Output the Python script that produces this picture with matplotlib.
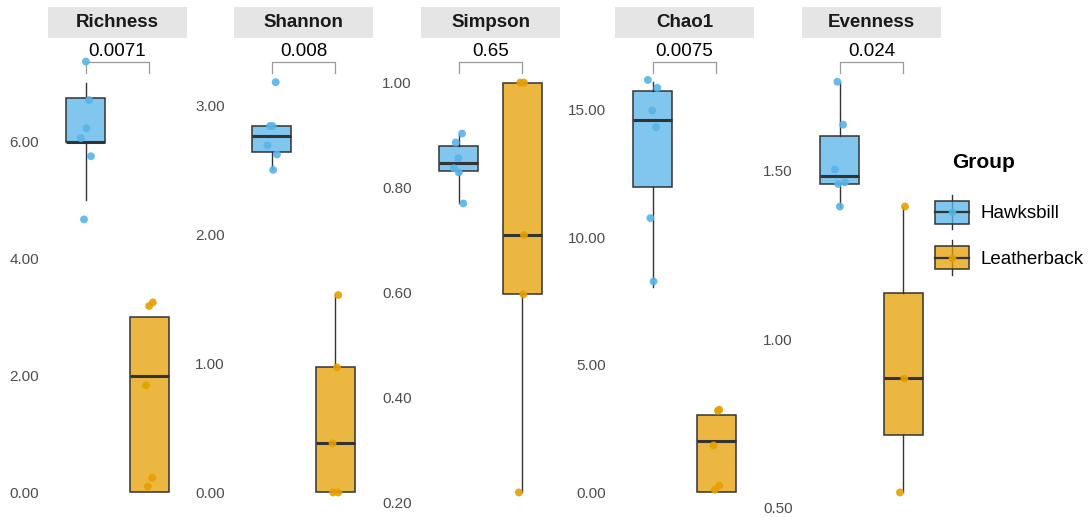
import matplotlib
matplotlib.use("Agg")
import matplotlib.pyplot as plt
from matplotlib.colors import to_rgba
from matplotlib.legend_handler import HandlerBase
from matplotlib.lines import Line2D
from matplotlib.patches import Patch, Rectangle
from matplotlib.ticker import FormatStrFormatter

plt.rcParams['font.family'] = ['Liberation Sans', 'DejaVu Sans']

groups = ["Hawksbill", "Leatherback"]
metrics = ["Richness", "Shannon", "Simpson", "Chao1", "Evenness"]
p_values = ["0.0071", "0.008", "0.65", "0.0075", "0.024"]
bracket_y = [7.37, 3.34, 1.04, 16.87, 1.824]
y_ticks = [
    [0, 2, 4, 6],
    [0, 1, 2, 3],
    [0.2, 0.4, 0.6, 0.8, 1.0],
    [0, 5, 10, 15],
    [0.5, 1.0, 1.5],
]

# box statistics per metric: (whisker low, q1, median, q3, whisker high)
hawks_box = [
    (5.0, 6.0, 6.0, 6.75, 7.0),
    (2.51, 2.6375, 2.765, 2.84, 2.84),
    (0.770, 0.831, 0.8465, 0.8785, 0.903),
    (8.06, 11.95, 14.59, 15.71, 16.06),
    (1.394, 1.462, 1.485, 1.603, 1.764),
]
leather_box = [
    (0.0, 0.0, 2.0, 3.0, 3.0),
    (0.0, 0.0, 0.38, 0.97, 1.53),
    (0.22, 0.597, 0.71, 1.0, 1.0),
    (0.0, 0.0, 2.01, 3.03, 3.03),
    (0.546, 0.716, 0.884, 1.138, 1.394),
]

# per-sample values (jittered points) and their horizontal jitter
hawks_pts = [
    [7.37, 6.71, 6.23, 6.06, 5.75, 4.67],
    [3.18, 2.84, 2.84, 2.69, 2.62, 2.50],
    [0.903, 0.886, 0.856, 0.837, 0.829, 0.770],
    [16.15, 15.84, 14.95, 14.30, 10.74, 8.26],
    [1.764, 1.637, 1.504, 1.466, 1.461, 1.394],
]
hawks_jit = [
    [0.0, 0.05, 0.01, -0.08, 0.08, -0.03],
    [0.06, -0.03, 0.01, -0.07, 0.08, 0.02],
    [0.05, -0.05, -0.01, -0.08, 0.0, 0.07],
    [-0.08, 0.07, -0.01, 0.05, -0.04, 0.01],
    [-0.04, 0.05, -0.08, 0.08, -0.03, 0.0],
]
leather_pts = [
    [3.25, 3.19, 1.83, 0.25, 0.10],
    [1.53, 0.97, 0.38, 0.0, 0.0],
    [1.0, 1.0, 0.71, 0.597, 0.22],
    [3.24, 3.20, 1.84, 0.27, 0.11],
    [1.394, 0.884, 0.546],
]
leather_jit = [
    [0.06, 0.0, -0.05, 0.05, -0.02],
    [0.05, 0.03, -0.04, -0.03, 0.05],
    [-0.03, 0.03, 0.03, 0.02, -0.05],
    [0.05, 0.03, -0.04, 0.05, -0.02],
    [0.03, 0.02, -0.05],
]

COLORS = {"Hawksbill": "#56B4E9", "Leatherback": "#E69F00"}
EDGE = "#333333"
W, H = 1089, 517
panel_left = [48, 234, 421, 615, 802]
panel_w = 139
panel_top, panel_bottom = 40, 514
strip_top, strip_bottom = 7, 38


def box_stats(t):
    lo, q1, med, q3, hi = t
    return {"whislo": lo, "q1": q1, "med": med, "q3": q3, "whishi": hi, "fliers": []}


class BoxKey(HandlerBase):
    """Legend key drawn as a tiny boxplot with a jitter dot."""

    def create_artists(self, legend, orig_handle, xdescent, ydescent,
                       width, height, fontsize, trans):
        face = orig_handle.get_facecolor()
        dot = orig_handle.get_edgecolor()
        x0 = -xdescent
        cx = x0 + width / 2
        cy = -ydescent + height / 2
        bh, wh = 8.3, 12.4
        artists = [
            Line2D([cx, cx], [cy - wh, cy + wh], color=EDGE, lw=1.0, transform=trans),
            Rectangle((x0, cy - bh), width, 2 * bh, facecolor=face, edgecolor=EDGE,
                      lw=1.1, transform=trans),
            Line2D([x0, x0 + width], [cy, cy], color=EDGE, lw=1.6, transform=trans),
            Line2D([cx], [cy], marker="o", ms=5.5, color=dot, mec="none", alpha=0.9,
                   transform=trans),
        ]
        return artists


fig = plt.figure(figsize=(W / 100, H / 100), dpi=100)

for i, name in enumerate(metrics):
    x0 = panel_left[i] / W
    ax = fig.add_axes([x0, 1 - panel_bottom / H, panel_w / W,
                       (panel_bottom - panel_top) / H])
    stats = [box_stats(hawks_box[i]), box_stats(leather_box[i])]
    bp = ax.bxp(stats, positions=[1, 2], widths=0.62, patch_artist=True,
                showfliers=False, showcaps=False,
                boxprops=dict(edgecolor=EDGE, linewidth=1.1),
                whiskerprops=dict(color=EDGE, linewidth=1.0),
                medianprops=dict(color=EDGE, linewidth=2.2, solid_capstyle="butt"))
    for patch, g in zip(bp["boxes"], groups):
        patch.set_facecolor(to_rgba(COLORS[g], 0.75))

    for pos, g, pts, jit in [(1, "Hawksbill", hawks_pts[i], hawks_jit[i]),
                             (2, "Leatherback", leather_pts[i], leather_jit[i])]:
        ax.scatter([pos + j for j in jit], pts, s=32, color=COLORS[g],
                   alpha=0.9, edgecolors="none", zorder=4)

    lo = min(min(hawks_box[i]), min(leather_box[i]),
             min(hawks_pts[i]), min(leather_pts[i]))
    hi = bracket_y[i]
    pad = 0.05 * (hi - lo)
    ax.set_ylim(lo - pad, hi + pad)
    ax.set_xlim(0.4, 2.6)

    # significance bracket
    tip = 0.025 * (hi - lo + 2 * pad)
    ax.plot([1, 1, 2, 2], [hi - tip, hi, hi, hi - tip], color="#9A9A9A", lw=0.9)
    ax.annotate(p_values[i], xy=(1.5, hi), xytext=(0, 1), textcoords="offset points",
                ha="center", va="bottom", fontsize=13.5, color="black")

    ax.set_yticks(y_ticks[i])
    ax.yaxis.set_major_formatter(FormatStrFormatter("%.2f"))
    ax.tick_params(axis="y", length=0, pad=6.5, labelsize=11, labelcolor="#4D4D4D")
    ax.set_xticks([])
    for s in ax.spines.values():
        s.set_visible(False)

    # facet strip
    sax = fig.add_axes([x0, 1 - strip_bottom / H, panel_w / W,
                        (strip_bottom - strip_top) / H])
    sax.set_facecolor("#E5E5E5")
    sax.set_xticks([])
    sax.set_yticks([])
    for s in sax.spines.values():
        s.set_visible(False)
    sax.text(0.5, 0.5, name, ha="center", va="center", fontsize=13.5,
             fontweight="bold", color="#1A1A1A", transform=sax.transAxes)

handles = [Patch(facecolor=to_rgba(COLORS[g], 0.75), edgecolor=COLORS[g]) for g in groups]
fig.legend(handles, groups, handler_map={Patch: BoxKey()}, loc="upper left",
           bbox_to_anchor=(935 / W, 1 - 199 / H), frameon=False, borderpad=0,
           borderaxespad=0, handlelength=1.8, handleheight=1.8, handletextpad=0.6,
           labelspacing=1.0, fontsize=13.5)
fig.text(952 / W, 1 - 162 / H, "Group", ha="left", va="center", fontsize=15,
         fontweight="bold", color="black")

fig.savefig("out.png", dpi=100, facecolor="white")
